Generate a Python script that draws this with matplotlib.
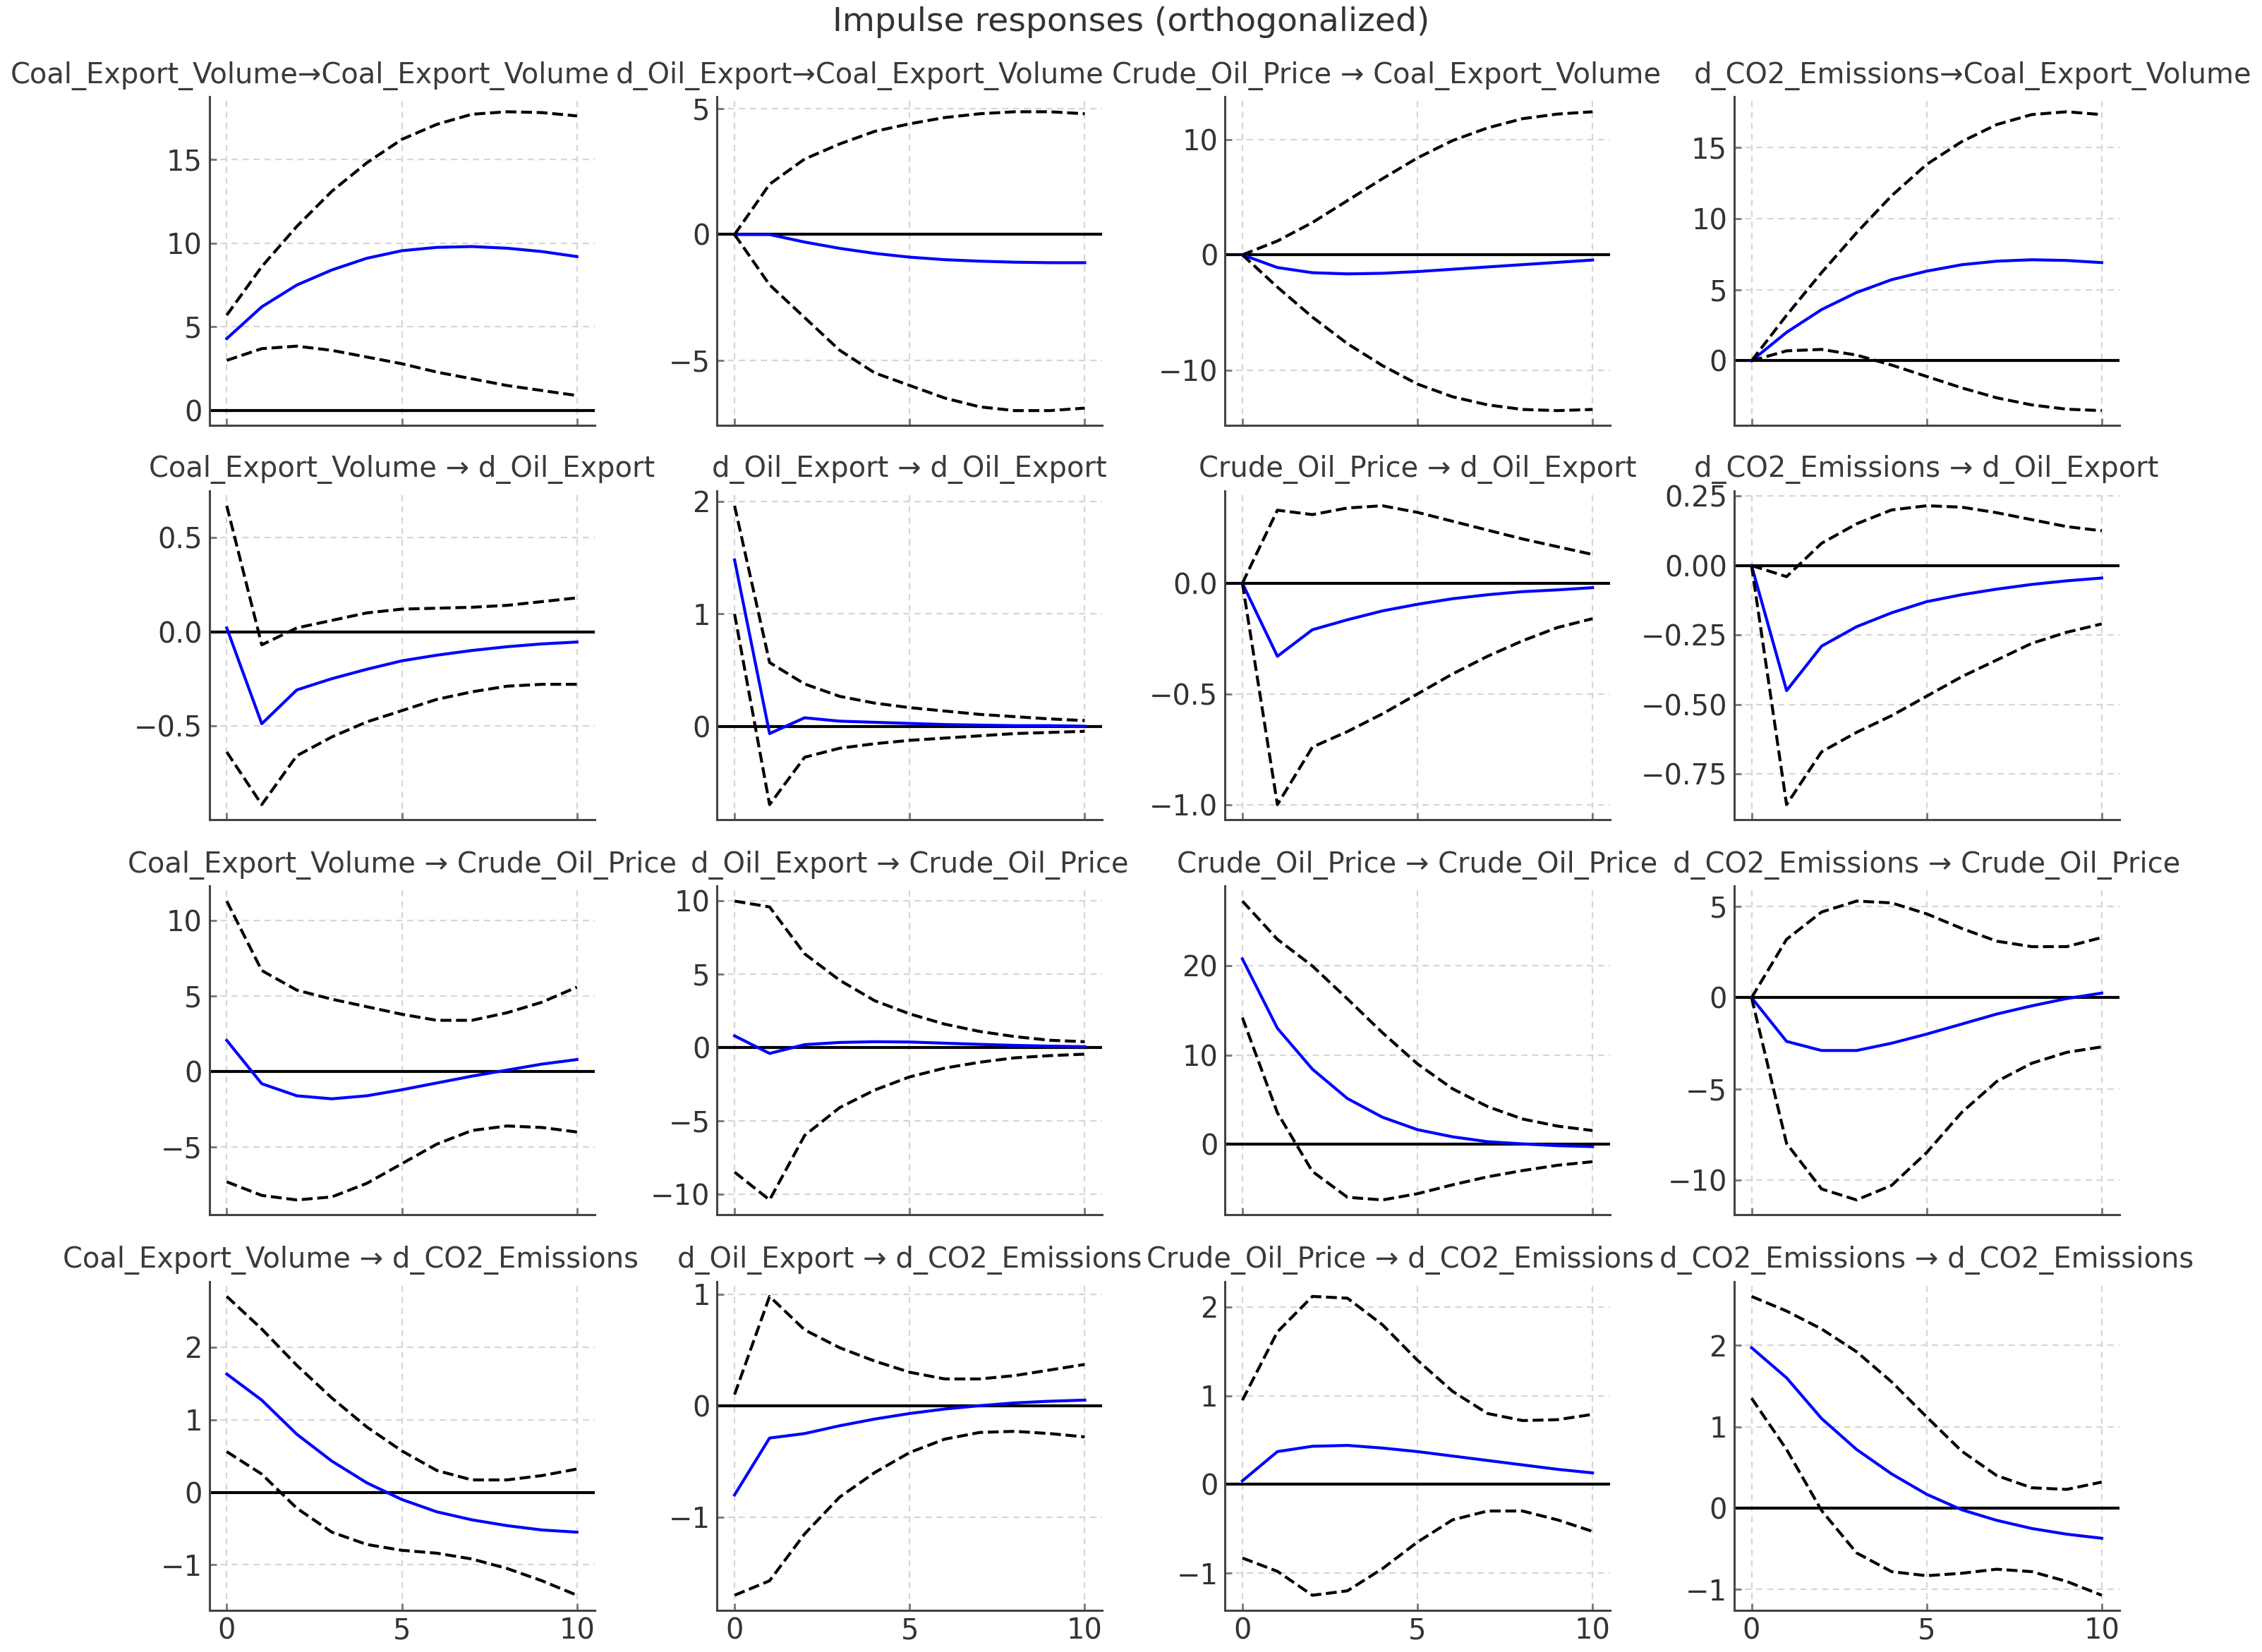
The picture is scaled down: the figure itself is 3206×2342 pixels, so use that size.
import matplotlib
matplotlib.use("Agg")
import matplotlib.pyplot as plt
import numpy as np

plt.rcParams['font.family'] = ['DejaVu Sans']

horizon = list(range(11))
variables = ["Coal_Export_Volume", "d_Oil_Export", "Crude_Oil_Price", "d_CO2_Emissions"]

# Row 1: response Coal_Export_Volume (impulse in column order)
coal_irf = [
    [4.3, 6.2, 7.5, 8.4, 9.1, 9.55, 9.75, 9.8, 9.7, 9.5, 9.2],
    [0.0, 0.0, -0.3, -0.55, -0.75, -0.9, -1.0, -1.06, -1.1, -1.12, -1.12],
    [0.0, -1.1, -1.55, -1.65, -1.6, -1.45, -1.25, -1.05, -0.85, -0.65, -0.45],
    [0.0, 2.0, 3.6, 4.8, 5.7, 6.3, 6.75, 7.0, 7.1, 7.05, 6.9],
]
coal_upper = [
    [5.7, 8.6, 11.0, 13.1, 14.8, 16.2, 17.1, 17.7, 17.85, 17.8, 17.6],
    [0.0, 2.0, 3.0, 3.6, 4.1, 4.4, 4.65, 4.8, 4.88, 4.88, 4.8],
    [0.0, 1.2, 2.8, 4.7, 6.6, 8.4, 9.9, 11.0, 11.8, 12.2, 12.4],
    [0.0, 3.2, 6.2, 9.0, 11.6, 13.8, 15.4, 16.6, 17.3, 17.5, 17.3],
]
coal_lower = [
    [3.0, 3.7, 3.85, 3.6, 3.2, 2.8, 2.3, 1.9, 1.5, 1.2, 0.9],
    [0.0, -2.0, -3.3, -4.6, -5.5, -6.0, -6.5, -6.85, -7.0, -7.0, -6.9],
    [0.0, -2.8, -5.4, -7.7, -9.6, -11.2, -12.3, -13.0, -13.4, -13.5, -13.4],
    [0.0, 0.7, 0.8, 0.4, -0.3, -1.1, -1.9, -2.6, -3.1, -3.4, -3.5],
]

# Row 2: response d_Oil_Export
oil_irf = [
    [0.02, -0.49, -0.31, -0.25, -0.2, -0.155, -0.125, -0.1, -0.08, -0.065, -0.055],
    [1.48, -0.06, 0.08, 0.05, 0.04, 0.03, 0.02, 0.015, 0.01, 0.01, 0.005],
    [0.0, -0.33, -0.21, -0.165, -0.125, -0.095, -0.07, -0.052, -0.038, -0.03, -0.02],
    [0.0, -0.45, -0.29, -0.22, -0.17, -0.13, -0.105, -0.085, -0.068, -0.055, -0.045],
]
oil_upper = [
    [0.67, -0.07, 0.02, 0.06, 0.1, 0.12, 0.125, 0.13, 0.14, 0.16, 0.18],
    [1.96, 0.57, 0.38, 0.27, 0.21, 0.17, 0.14, 0.11, 0.09, 0.07, 0.055],
    [0.0, 0.33, 0.31, 0.34, 0.35, 0.32, 0.28, 0.24, 0.2, 0.165, 0.13],
    [0.0, -0.04, 0.08, 0.15, 0.2, 0.215, 0.21, 0.19, 0.165, 0.14, 0.125],
]
oil_lower = [
    [-0.64, -0.92, -0.66, -0.56, -0.48, -0.42, -0.36, -0.32, -0.29, -0.28, -0.28],
    [1.0, -0.69, -0.27, -0.19, -0.15, -0.12, -0.1, -0.08, -0.06, -0.05, -0.04],
    [0.0, -1.0, -0.74, -0.67, -0.59, -0.5, -0.41, -0.33, -0.26, -0.2, -0.16],
    [0.0, -0.86, -0.67, -0.6, -0.54, -0.47, -0.4, -0.34, -0.28, -0.24, -0.21],
]

# Row 3: response Crude_Oil_Price
crude_irf = [
    [2.07, -0.8, -1.6, -1.8, -1.6, -1.2, -0.75, -0.3, 0.1, 0.5, 0.8],
    [0.8, -0.4, 0.2, 0.35, 0.4, 0.38, 0.3, 0.22, 0.15, 0.1, 0.06],
    [20.8, 13.0, 8.4, 5.1, 3.0, 1.6, 0.8, 0.25, 0.0, -0.2, -0.3],
    [0.0, -2.4, -2.9, -2.9, -2.5, -2.0, -1.45, -0.9, -0.45, -0.05, 0.25],
]
crude_upper = [
    [11.3, 6.7, 5.4, 4.8, 4.3, 3.8, 3.4, 3.4, 3.9, 4.6, 5.6],
    [10.0, 9.6, 6.4, 4.6, 3.2, 2.3, 1.6, 1.1, 0.75, 0.5, 0.4],
    [27.3, 23.0, 20.0, 16.3, 12.5, 9.0, 6.2, 4.2, 2.8, 2.0, 1.5],
    [0.0, 3.2, 4.7, 5.3, 5.2, 4.6, 3.8, 3.1, 2.8, 2.8, 3.3],
]
crude_lower = [
    [-7.3, -8.2, -8.5, -8.3, -7.4, -6.1, -4.8, -3.9, -3.6, -3.7, -4.0],
    [-8.5, -10.4, -6.0, -4.1, -2.9, -2.0, -1.4, -1.0, -0.7, -0.55, -0.45],
    [14.2, 3.5, -3.1, -6.0, -6.3, -5.6, -4.6, -3.7, -3.0, -2.4, -2.0],
    [0.0, -8.0, -10.5, -11.1, -10.3, -8.5, -6.3, -4.6, -3.6, -3.0, -2.7],
]

# Row 4: response d_CO2_Emissions
co2_irf = [
    [1.63, 1.27, 0.8, 0.43, 0.13, -0.1, -0.27, -0.38, -0.46, -0.52, -0.55],
    [-0.8, -0.29, -0.25, -0.18, -0.12, -0.07, -0.03, 0.0, 0.025, 0.04, 0.05],
    [0.04, 0.37, 0.43, 0.44, 0.41, 0.37, 0.32, 0.27, 0.22, 0.17, 0.13],
    [1.97, 1.6, 1.1, 0.72, 0.42, 0.17, -0.02, -0.15, -0.25, -0.32, -0.37],
]
co2_upper = [
    [2.7, 2.25, 1.75, 1.3, 0.9, 0.57, 0.3, 0.17, 0.17, 0.23, 0.32],
    [0.1, 0.98, 0.68, 0.52, 0.4, 0.3, 0.24, 0.24, 0.27, 0.32, 0.37],
    [0.95, 1.72, 2.12, 2.1, 1.8, 1.4, 1.05, 0.8, 0.72, 0.73, 0.79],
    [2.6, 2.42, 2.2, 1.92, 1.55, 1.12, 0.7, 0.4, 0.25, 0.23, 0.32],
]
co2_lower = [
    [0.56, 0.25, -0.22, -0.55, -0.72, -0.8, -0.84, -0.92, -1.05, -1.22, -1.42],
    [-1.7, -1.57, -1.15, -0.82, -0.6, -0.42, -0.3, -0.24, -0.23, -0.25, -0.28],
    [-0.83, -0.98, -1.25, -1.2, -0.95, -0.65, -0.4, -0.3, -0.3, -0.4, -0.53],
    [1.35, 0.72, -0.03, -0.55, -0.78, -0.83, -0.8, -0.75, -0.78, -0.9, -1.07],
]

irf_rows = [coal_irf, oil_irf, crude_irf, co2_irf]
upper_rows = [coal_upper, oil_upper, crude_upper, co2_upper]
lower_rows = [coal_lower, oil_lower, crude_lower, co2_lower]

# y tick values per panel
yticks = [
    [[0, 5, 10, 15], [-5, 0, 5], [-10, 0, 10], [0, 5, 10, 15]],
    [[-0.5, 0.0, 0.5], [0, 1, 2], [-1.0, -0.5, 0.0], [-0.75, -0.5, -0.25, 0.0, 0.25]],
    [[-5, 0, 5, 10], [-10, -5, 0, 5, 10], [0, 10, 20], [-10, -5, 0, 5]],
    [[-1, 0, 1, 2], [-1, 0, 1], [-1, 0, 1, 2], [-1, 0, 1, 2]],
]
xticks = [0, 5, 10]

# title arrow separators and horizontal title positions (axes fraction)
title_sep = [["→", "→", " → ", "→"],
             [" → ", " → ", " → ", " → "],
             [" → ", " → ", " → ", " → "],
             [" → ", " → ", " → ", " → "]]
title_x = [[0.262, 0.371, 0.42, 0.62],
           [0.5, 0.5, 0.5, 0.5],
           [0.5, 0.5, 0.5, 0.5],
           [0.367, 0.5, 0.455, 0.5]]

fig = plt.figure(figsize=(16.03, 11.71), dpi=200)
lefts = [0.0925, 0.317, 0.5415, 0.7666]
bottoms = [0.7424, 0.5039, 0.2646, 0.0253]
w, h = 0.1703, 0.199

for i in range(4):
    for j in range(4):
        ax = fig.add_axes([lefts[j], bottoms[i], w, h])
        ax.plot(horizon, irf_rows[i][j], color='blue', lw=1.5, zorder=3)
        ax.plot(horizon, upper_rows[i][j], color='black', ls='--', lw=1.5, zorder=3)
        ax.plot(horizon, lower_rows[i][j], color='black', ls='--', lw=1.5, zorder=3)
        ax.axhline(0, color='black', lw=1.5, zorder=2)
        ax.set_title(variables[j] + title_sep[i][j] + variables[i],
                     fontsize=14.4, color='#3a3a3a', x=title_x[i][j], pad=7)
        ax.set_xlim(-0.5, 10.5)
        ax.set_xticks(xticks)
        ax.set_yticks(yticks[i][j])
        ax.grid(axis='both', ls=(0, (4, 3)), color='#d6d6d6', lw=0.8)
        for s in ['top', 'right']:
            ax.spines[s].set_visible(False)
        for s in ['left', 'bottom']:
            ax.spines[s].set_color('#444444')
            ax.spines[s].set_linewidth(1.1)
        ax.tick_params(axis='both', labelsize=14.4, labelcolor='#333333',
                       color='#777777', direction='in', length=3.5, width=1.0)
        if i < 3:
            ax.tick_params(axis='x', labelbottom=False)

fig.suptitle("Impulse responses (orthogonalized)", fontsize=17, color='#333333', y=0.996)
fig.savefig("out.png", dpi=200)
